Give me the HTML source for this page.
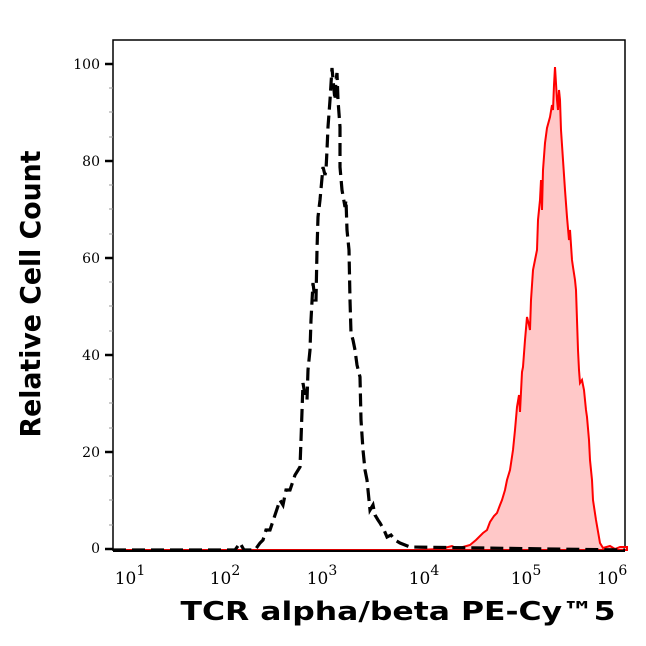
<!DOCTYPE html>
<html><head><style>body{margin:0;background:#fff}</style></head><body>
<svg width="646" height="641" xmlns="http://www.w3.org/2000/svg" font-family="'DejaVu Serif',serif">
<rect width="646" height="641" fill="#fff"/>
<polyline points="113,551 113,40 625,40 625,551" fill="none" stroke="#000" stroke-width="1.5"/>
<path d="M417,550 L440,549 452,546 458,549 463,547 470,545 476,540 483,533 487,530 490,522 494,516 497,513 500,505 502,500 505,490 507,480 510,470 513,450 515,430 517,407 519,395 520,412 522,372 523,367 525,340 527,317 529,325 530,330 531,300 533,270 535,260 537,250 538,220 540,200 541,180 542,210 543,170 545,143 547,128 550,117 552,105 553,110 554,85 555,67 557,100 558,110 559,90 560,100 561,130 563,160 565,190 567,217 569,240 570,230 572,260 573,267 575,280 576,290 577,320 578,350 579,370 580,383 582,380 584,390 586,410 587,417 589,440 590,460 592,480 593,500 596,520 600,543 603,548 610,546 615,549 620,547 627,547 L627,550 Z" fill="#ffc8c8" stroke="#f00" stroke-width="2"/>
<polyline points="113,550 625,550" fill="none" stroke="#d00" stroke-width="2"/>
<polyline points="113,550 235,550 240,543 244,550 255,550 260,543 263,540 266,530 270,530 275,515 280,500 283,505 286,490 290,490 295,475 300,467 301,440 303,383 305,395 307,400 308,370 310,350 311,320 313,283 315,300 316,300 317,250 318,217 320,200 323,167 325,175 326,170 327,150 328,127 330,100 332,68 334,90 335,100 336,80 337,73 338,100 340,127 340,167 342,190 345,207 346,200 347,230 349,250 350,300 351,333 353,340 355,350 357,365 360,377 361,420 363,450 365,470 367,480 369,500 370,510 373,505 375,515 378,520 380,523 384,530 387,537 391,535 395,540 400,543 410,547 625,550" fill="none" stroke="#000" stroke-width="3.2" stroke-dasharray="13,6"/>
<line x1="113" y1="551" x2="625" y2="551" stroke="#000" stroke-width="2"/>
<g stroke="#000" stroke-width="2.5">
<line x1="105" y1="64" x2="113" y2="64"/><line x1="105" y1="161" x2="113" y2="161"/><line x1="105" y1="258" x2="113" y2="258"/><line x1="105" y1="355" x2="113" y2="355"/><line x1="105" y1="452" x2="113" y2="452"/><line x1="105" y1="549" x2="113" y2="549"/>
</g>
<g stroke="#999" stroke-width="1">
<line x1="109" y1="88" x2="113" y2="88"/><line x1="109" y1="112" x2="113" y2="112"/><line x1="109" y1="137" x2="113" y2="137"/>
<line x1="109" y1="185" x2="113" y2="185"/><line x1="109" y1="209" x2="113" y2="209"/><line x1="109" y1="234" x2="113" y2="234"/>
<line x1="109" y1="282" x2="113" y2="282"/><line x1="109" y1="306" x2="113" y2="306"/><line x1="109" y1="331" x2="113" y2="331"/>
<line x1="109" y1="379" x2="113" y2="379"/><line x1="109" y1="403" x2="113" y2="403"/><line x1="109" y1="428" x2="113" y2="428"/>
<line x1="109" y1="476" x2="113" y2="476"/><line x1="109" y1="500" x2="113" y2="500"/><line x1="109" y1="525" x2="113" y2="525"/>
</g>
<g font-size="14" text-anchor="end">
<text x="100" y="69">100</text><text x="100" y="166">80</text><text x="100" y="263">60</text><text x="100" y="360">40</text><text x="100" y="457">20</text><text x="100" y="553">0</text>
</g>
<g id="ticks" stroke="#000" stroke-width="2"></g>
<g font-size="17" text-anchor="middle">
<text x="130" y="584">10<tspan font-size="14" dy="-9">1</tspan></text>
<text x="225" y="584">10<tspan font-size="14" dy="-9">2</tspan></text>
<text x="322" y="584">10<tspan font-size="14" dy="-9">3</tspan></text>
<text x="424" y="584">10<tspan font-size="14" dy="-9">4</tspan></text>
<text x="526" y="584">10<tspan font-size="14" dy="-9">5</tspan></text>
<text x="612" y="584">10<tspan font-size="14" dy="-9">6</tspan></text>
</g>
<text x="398" y="620" text-anchor="middle" font-family="'DejaVu Sans',sans-serif" font-weight="bold" font-size="26" textLength="435" lengthAdjust="spacingAndGlyphs">TCR alpha/beta PE-Cy™5</text>
<text transform="translate(40,294) rotate(-90)" text-anchor="middle" font-family="'DejaVu Sans',sans-serif" font-weight="bold" font-size="28" textLength="287" lengthAdjust="spacingAndGlyphs">Relative Cell Count</text>
<script>
var g=document.getElementById('ticks'),s='';
var m=[115,216,319,420,522,622];
for(var d=0;d<5;d++){var a=m[d],b=m[d+1];
s+='<line x1="'+a+'" y1="551" x2="'+a+'" y2="560"/>';
for(var k=2;k<10;k++){var x=a+(b-a)*Math.log10(k);s+='<line x1="'+x+'" y1="551" x2="'+x+'" y2="556" stroke-width="1"/>';}}
s+='<line x1="622" y1="551" x2="622" y2="560"/>';
g.innerHTML=s;
</script>
</svg>
</body></html>
